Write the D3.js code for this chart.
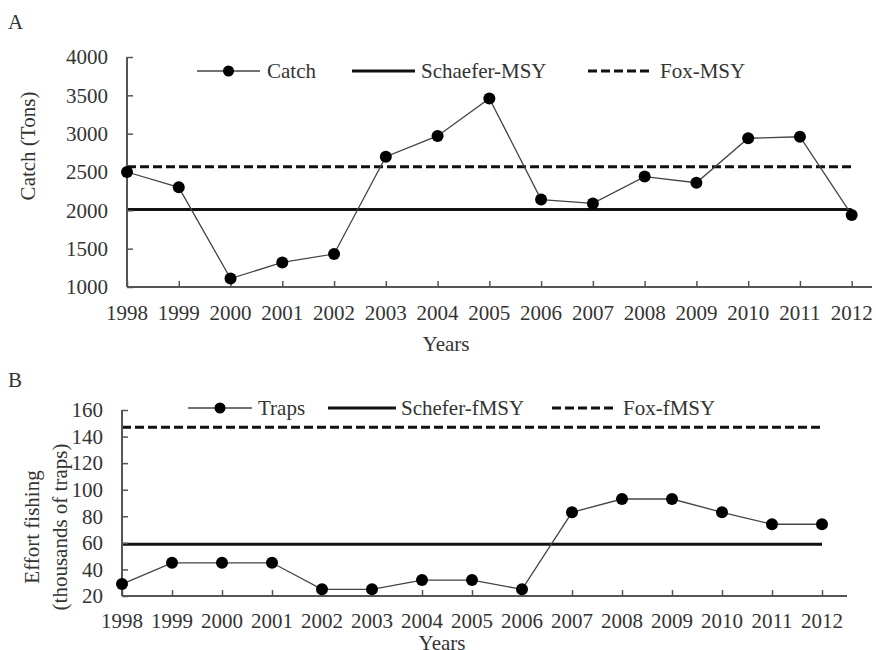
<!DOCTYPE html>
<html>
<head>
<meta charset="utf-8">
<script src="https://cdn.jsdelivr.net/npm/d3@7/dist/d3.min.js"></script>
<style>
  body { margin: 0; background: #fff; }
  text { font-family: "Liberation Serif", "Times New Roman", serif; fill: #333; }
</style>
</head>
<body>
<svg id="chart" width="876" height="650"></svg>
<script>
// data
var years = [1998, 1999, 2000, 2001, 2002, 2003, 2004, 2005, 2006, 2007, 2008, 2009, 2010, 2011, 2012];
var catchTons = [2500, 2300, 1110, 1320, 1430, 2700, 2970, 3460, 2140, 2090, 2440, 2360, 2940, 2960, 1940];
var schaeferMSY = 2010;
var foxMSY = 2570;
var traps = [29, 45, 45, 45, 25, 25, 32, 32, 25, 83, 93, 93, 83, 74, 74];
var scheferFMSY = 59;
var foxFMSY = 147;
var catchTicks = [1000, 1500, 2000, 2500, 3000, 3500, 4000];
var trapTicks = [20, 40, 60, 80, 100, 120, 140, 160];

var svg = d3.select("#chart");
var axisColor = "#555";

var Panel = function (o) {
  var g = svg.append("g");
  var x = d3.scaleLinear().domain([1998, 2012]).range([o.x0, o.x1]);
  var y = d3.scaleLinear().domain(o.yDomain).range([o.yBottom, o.yTop]);

  // reference lines
  g.append("line")
    .attr("x1", x(1998)).attr("x2", x(2012))
    .attr("y1", y(o.solid)).attr("y2", y(o.solid))
    .attr("stroke", "#111").attr("stroke-width", 3);
  g.append("line")
    .attr("x1", x(1998)).attr("x2", x(2012))
    .attr("y1", y(o.dashed)).attr("y2", y(o.dashed))
    .attr("stroke", "#111").attr("stroke-width", 3)
    .attr("stroke-dasharray", "9,4");

  // axes
  var xa = g.append("g").attr("transform", "translate(0," + o.yBottom + ")")
    .call(d3.axisBottom(x).tickValues(years).tickFormat(d3.format("d"))
      .tickSizeInner(-6).tickSizeOuter(0).tickPadding(0));
  xa.select(".domain").remove();
  xa.selectAll(".tick line").attr("stroke", axisColor).attr("stroke-width", 1.5);
  xa.selectAll(".tick text").remove();
  g.selectAll(".xlab").data(years).enter().append("text")
    .attr("x", function (d) { return x(d); })
    .attr("y", o.yearBase)
    .attr("text-anchor", "middle")
    .style("font-size", "21px")
    .text(function (d) { return d; });

  var ya = g.append("g").attr("transform", "translate(" + o.x0 + ",0)")
    .call(d3.axisLeft(y).tickValues(o.ticks).tickSizeInner(-6).tickSizeOuter(0));
  ya.select(".domain").remove();
  ya.selectAll(".tick line").attr("stroke", axisColor).attr("stroke-width", 1.5);
  ya.selectAll(".tick text").remove();
  g.selectAll(".ylab").data(o.ticks).enter().append("text")
    .attr("x", o.yLabX)
    .attr("y", function (d) { return y(d); })
    .attr("dy", "0.35em")
    .attr("text-anchor", "end")
    .style("font-size", "21px")
    .text(function (d) { return d; });

  g.append("line")
    .attr("x1", o.x0).attr("x2", o.x0)
    .attr("y1", o.yTop).attr("y2", o.yBottom)
    .attr("stroke", axisColor).attr("stroke-width", 2);
  g.append("line")
    .attr("x1", o.x0).attr("x2", o.axisEnd)
    .attr("y1", o.yBottom).attr("y2", o.yBottom)
    .attr("stroke", axisColor).attr("stroke-width", 2);

  // series
  var line = d3.line()
    .x(function (d, i) { return x(years[i]); })
    .y(function (d) { return y(d); });
  g.append("path").datum(o.values)
    .attr("d", line)
    .attr("fill", "none").attr("stroke", "#444").attr("stroke-width", 1.3);
  g.selectAll(".pt").data(o.values).enter().append("circle")
    .attr("cx", function (d, i) { return x(years[i]); })
    .attr("cy", function (d) { return y(d); })
    .attr("r", 6)
    .attr("fill", "#000");

  // legend
  var ly = o.legY;
  var lg = o.leg;
  g.append("line").attr("x1", lg[0]).attr("x2", lg[1]).attr("y1", ly).attr("y2", ly)
    .attr("stroke", "#444").attr("stroke-width", 1.3);
  g.append("circle").attr("cx", (lg[0] + lg[1]) / 2).attr("cy", ly).attr("r", 5.5).attr("fill", "#000");
  g.append("line").attr("x1", lg[3]).attr("x2", lg[4]).attr("y1", ly).attr("y2", ly)
    .attr("stroke", "#111").attr("stroke-width", 3);
  g.append("line").attr("x1", lg[6]).attr("x2", lg[7]).attr("y1", ly).attr("y2", ly)
    .attr("stroke", "#111").attr("stroke-width", 3).attr("stroke-dasharray", "9,4");
  [[lg[2], o.names[0]], [lg[5], o.names[1]], [lg[8], o.names[2]]].forEach(function (t) {
    g.append("text").attr("x", t[0]).attr("y", ly).attr("dy", "0.35em")
      .style("font-size", "21px").text(t[1]);
  });

  // axis titles
  g.append("text").attr("x", o.titleX).attr("y", o.titleBase)
    .attr("text-anchor", "middle").style("font-size", "21px").text("Years");
  o.yTitle.forEach(function (t) {
    g.append("text")
      .attr("transform", "translate(" + t[0] + "," + o.yTitleY + ") rotate(-90)")
      .attr("dy", "0.35em")
      .attr("text-anchor", "middle").style("font-size", "21px").text(t[1]);
  });
  g.append("text").attr("x", 8).attr("y", o.letterBase)
    .style("font-size", "21px").text(o.letter);
};

Panel({
  letter: "A", letterBase: 29,
  x0: 127, x1: 851.7, axisEnd: 872,
  yDomain: [1000, 4000], yBottom: 287, yTop: 57, ticks: catchTicks, yLabX: 108,
  values: catchTons, solid: schaeferMSY, dashed: foxMSY,
  yearBase: 320, titleX: 446, titleBase: 351,
  yTitle: [[28, "Catch (Tons)"]], yTitleY: 146,
  legY: 71, leg: [197, 260, 267, 352, 415, 421, 588, 652, 660],
  names: ["Catch", "Schaefer-MSY", "Fox-MSY"]
});

Panel({
  letter: "B", letterBase: 387,
  x0: 122, x1: 822, axisEnd: 847,
  yDomain: [20, 160], yBottom: 596, yTop: 410, ticks: trapTicks, yLabX: 103,
  values: traps, solid: scheferFMSY, dashed: foxFMSY,
  yearBase: 628, titleX: 442, titleBase: 650,
  yTitle: [[32, "Effort fishing"], [60, "(thousands of traps)"]], yTitleY: 527,
  legY: 408, leg: [188, 252, 258, 328, 396, 401, 552, 615, 623],
  names: ["Traps", "Schefer-fMSY", "Fox-fMSY"]
});
</script>
</body>
</html>
